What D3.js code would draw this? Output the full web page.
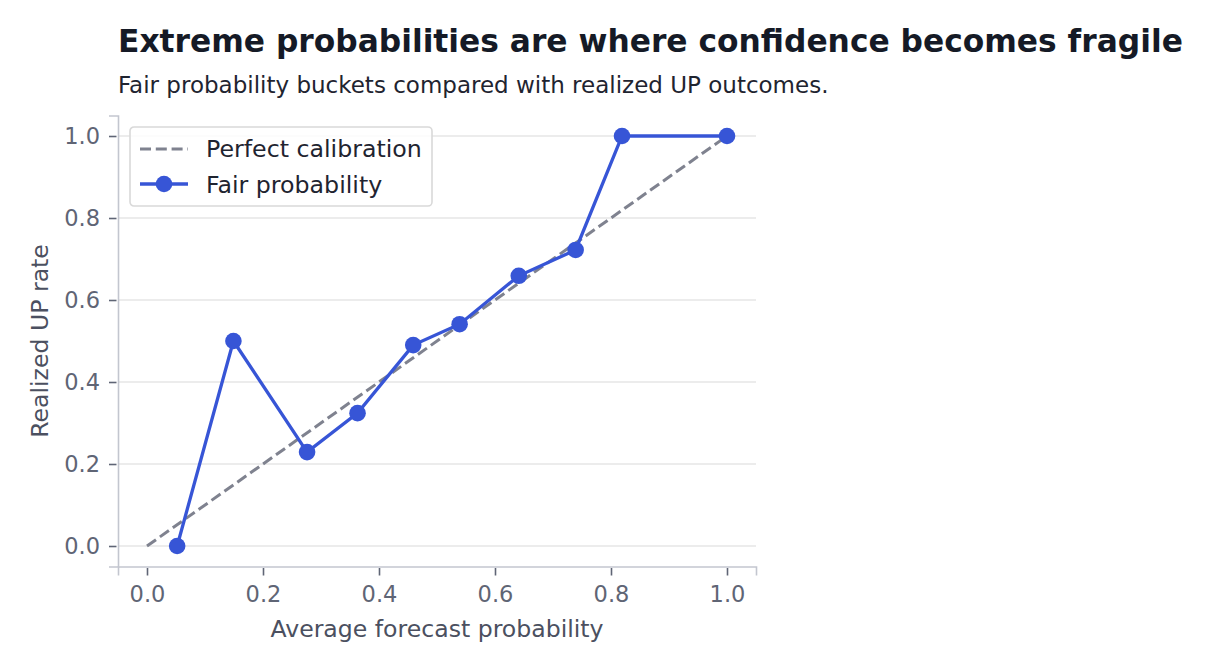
<!DOCTYPE html>
<head>
    <meta charset="UTF-8">
    <script src="https://d3js.org/d3.v7.min.js"></script>
    <style>
        body { margin: 0; background: #fff; }
        svg { font-family: "DejaVu Sans", sans-serif; }
        .grid line { stroke: #e6e6e6; stroke-width: 1.3px; }
        .axis path, .axis line { stroke: #c3c6cf; stroke-width: 1.6px; }
        .axis .tick line { stroke: #5f6575; }
        .axis text { fill: #5f6575; font-size: 22.5px; font-family: "DejaVu Sans", sans-serif; }
    </style>
</head>
<body>
    <div id="viz"></div>
    <script>
        // calibration buckets
        const forecastProb = [0.052, 0.149, 0.276, 0.363, 0.459, 0.539, 0.641, 0.739, 0.819, 1.0];
        const realizedRate = [0.0, 0.5, 0.229, 0.324, 0.49, 0.541, 0.659, 0.722, 1.0, 1.0];
        const perfect = [0, 1];
        const tickValues = [0, 0.2, 0.4, 0.6, 0.8, 1.0];

        const width = 1212, height = 671;
        const margin = { left: 118, top: 115.5, right: 456, bottom: 104.5 };

        const svg = d3.select('#viz').append('svg')
            .attr('width', width)
            .attr('height', height);

        const x = d3.scaleLinear().domain([-0.05, 1.05]).range([margin.left, width - margin.right]);
        const y = d3.scaleLinear().domain([-0.05, 1.05]).range([height - margin.bottom, margin.top]);

        // title + subtitle
        svg.append('text')
            .attr('x', 118).attr('y', 52)
            .style('font-size', '31.3px').style('font-weight', 'bold').style('fill', '#151a26')
            .text('Extreme probabilities are where confidence becomes fragile');
        svg.append('text')
            .attr('x', 118).attr('y', 93)
            .style('font-size', '23px').style('fill', '#1f2430')
            .text('Fair probability buckets compared with realized UP outcomes.');

        // horizontal grid
        svg.append('g').attr('class', 'grid')
            .selectAll('line').data(tickValues).enter().append('line')
            .attr('x1', x(-0.05)).attr('x2', x(1.05))
            .attr('y1', d => y(d)).attr('y2', d => y(d));

        // axes
        const xAxis = svg.append('g').attr('class', 'axis')
            .attr('transform', `translate(0,${y(-0.05)})`)
            .call(d3.axisBottom(x).tickValues(tickValues).tickFormat(d3.format('.1f')).tickSizeOuter(0).tickSize(9).tickPadding(11));
        const yAxis = svg.append('g').attr('class', 'axis')
            .attr('transform', `translate(${x(-0.05)},0)`)
            .call(d3.axisLeft(y).tickValues(tickValues).tickFormat(d3.format('.1f')).tickSizeOuter(0).tickSize(9).tickPadding(9));
        xAxis.selectAll('.tick line').attr('y1', 1.5);
        yAxis.selectAll('.tick line').attr('x1', -1.5);

        // axis labels
        svg.append('text')
            .attr('x', (x(-0.05) + x(1.05)) / 2).attr('y', 637)
            .attr('text-anchor', 'middle')
            .style('font-size', '23.6px').style('fill', '#4b5060')
            .text('Average forecast probability');
        svg.append('text')
            .attr('transform', `translate(48,${(y(-0.05) + y(1.05)) / 2}) rotate(-90)`)
            .attr('text-anchor', 'middle')
            .style('font-size', '23.6px').style('fill', '#4b5060')
            .text('Realized UP rate');

        // perfect calibration
        svg.append('line')
            .attr('x1', x(perfect[0])).attr('y1', y(perfect[0]))
            .attr('x2', x(perfect[1])).attr('y2', y(perfect[1]))
            .attr('stroke', '#7f828f').attr('stroke-width', 3)
            .attr('stroke-dasharray', '11,4.8');

        const pts = forecastProb.map((d, i) => [d, realizedRate[i]]);
        const line = d3.line().x(d => x(d[0])).y(d => y(d[1]));
        svg.append('path')
            .datum(pts)
            .attr('d', line)
            .attr('fill', 'none')
            .attr('stroke', '#3755d6')
            .attr('stroke-width', 3.3);
        svg.selectAll('.dot').data(pts).enter().append('circle')
            .attr('class', 'dot')
            .attr('cx', d => x(d[0])).attr('cy', d => y(d[1]))
            .attr('r', 8.3)
            .attr('fill', '#3755d6');

        // legend
        const lg = svg.append('g').attr('transform', 'translate(130,127)');
        lg.append('rect')
            .attr('width', 302).attr('height', 79).attr('rx', 4)
            .attr('fill', 'rgba(255,255,255,0.85)')
            .attr('stroke', '#d9d9d9').attr('stroke-width', 1.6);
        lg.append('line')
            .attr('x1', 10).attr('x2', 58).attr('y1', 22).attr('y2', 22)
            .attr('stroke', '#7f828f').attr('stroke-width', 3)
            .attr('stroke-dasharray', '11,4.8');
        lg.append('line')
            .attr('x1', 10).attr('x2', 58).attr('y1', 57).attr('y2', 57)
            .attr('stroke', '#3755d6').attr('stroke-width', 3.3);
        lg.append('circle').attr('cx', 34).attr('cy', 57).attr('r', 8.3).attr('fill', '#3755d6');
        lg.append('text').attr('x', 76).attr('y', 30)
            .style('font-size', '23.7px').style('fill', '#1f2430')
            .text('Perfect calibration');
        lg.append('text').attr('x', 76).attr('y', 66)
            .style('font-size', '23.7px').style('fill', '#1f2430')
            .text('Fair probability');
    </script>
</body>
</html>
